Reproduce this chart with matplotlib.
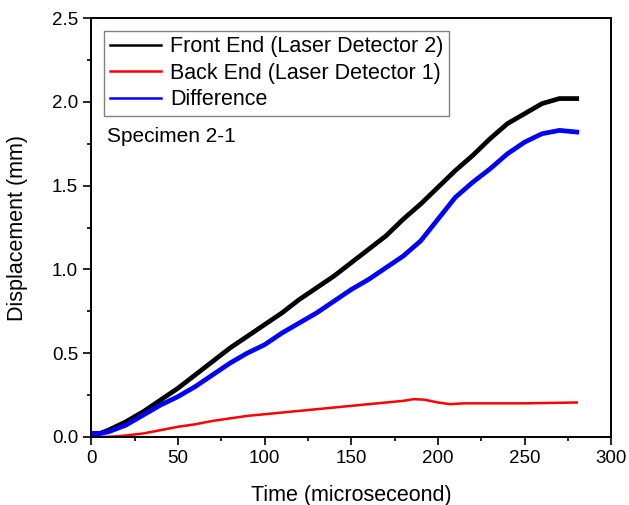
import matplotlib.pyplot as plt
from matplotlib.ticker import MultipleLocator

plt.rcParams['font.family'] = ['Liberation Sans', 'DejaVu Sans']

# values (time in microseconds, displacement in mm)
t_front = [0, 5, 10, 20, 30, 40, 50, 60, 70, 80, 90, 100, 110, 120, 130, 140,
           150, 160, 170, 180, 190, 200, 210, 220, 230, 240, 250, 260, 270, 280]
front = [0.02, 0.02, 0.04, 0.09, 0.15, 0.22, 0.29, 0.37, 0.45, 0.53, 0.60, 0.67,
         0.74, 0.82, 0.89, 0.96, 1.04, 1.12, 1.20, 1.30, 1.39, 1.49, 1.59, 1.68,
         1.78, 1.87, 1.93, 1.99, 2.02, 2.02]

t_back = [0, 10, 15, 20, 30, 40, 50, 60, 70, 80, 90, 100, 110, 120, 130, 140,
          150, 160, 170, 180, 186, 192, 200, 207, 215, 230, 250, 280]
back = [0.0, 0.0, 0.003, 0.008, 0.02, 0.04, 0.06, 0.075, 0.095, 0.11, 0.125,
        0.135, 0.145, 0.155, 0.165, 0.175, 0.185, 0.195, 0.205, 0.215, 0.225,
        0.222, 0.205, 0.195, 0.20, 0.20, 0.20, 0.205]

t_diff = t_front
diff = [0.02, 0.02, 0.03, 0.07, 0.13, 0.19, 0.24, 0.30, 0.37, 0.44, 0.50, 0.55,
        0.62, 0.68, 0.74, 0.81, 0.88, 0.94, 1.01, 1.08, 1.17, 1.30, 1.43, 1.52,
        1.60, 1.69, 1.76, 1.81, 1.83, 1.82]

fig = plt.figure(figsize=(6.29, 5.05), dpi=100)
ax = fig.add_axes([0.145, 0.135, 0.827, 0.829])

ax.plot(t_front, front, color='black', lw=3.4, label='Front End (Laser Detector 2)')
ax.plot(t_back, back, color='red', lw=1.8, label='Back End (Laser Detector 1)')
ax.plot(t_diff, diff, color='blue', lw=3.4, label='Difference')

ax.set_xlim(0, 300)
ax.set_ylim(0, 2.5)
ax.xaxis.set_major_locator(MultipleLocator(50))
ax.xaxis.set_minor_locator(MultipleLocator(25))
ax.yaxis.set_major_locator(MultipleLocator(0.5))
ax.yaxis.set_minor_locator(MultipleLocator(0.25))
ax.yaxis.set_major_formatter(plt.FormatStrFormatter('%.1f'))
ax.tick_params(which='both', direction='out', width=1.2, labelsize=13.5)
ax.tick_params(which='major', length=6)
ax.tick_params(which='minor', length=3)
for s in ax.spines.values():
    s.set_linewidth(1.4)

ax.set_xlabel('Time (microseceond)', fontsize=15.5, labelpad=13)
ax.set_ylabel('Displacement (mm)', fontsize=15.5, labelpad=17)

ax.text(0.03, 0.705, 'Specimen 2-1', transform=ax.transAxes, fontsize=15,
        va='baseline')

leg = ax.legend(loc='upper left', fontsize=15.5, fancybox=False, edgecolor='gray',
                framealpha=1, handlelength=2.4, borderpad=0.25, labelspacing=0.25,
                borderaxespad=0.6, handletextpad=0.4)
leg.get_frame().set_linewidth(1.0)
for h in leg.get_lines():
    h.set_linewidth(1.8)

fig.savefig('out.png', dpi=100)
